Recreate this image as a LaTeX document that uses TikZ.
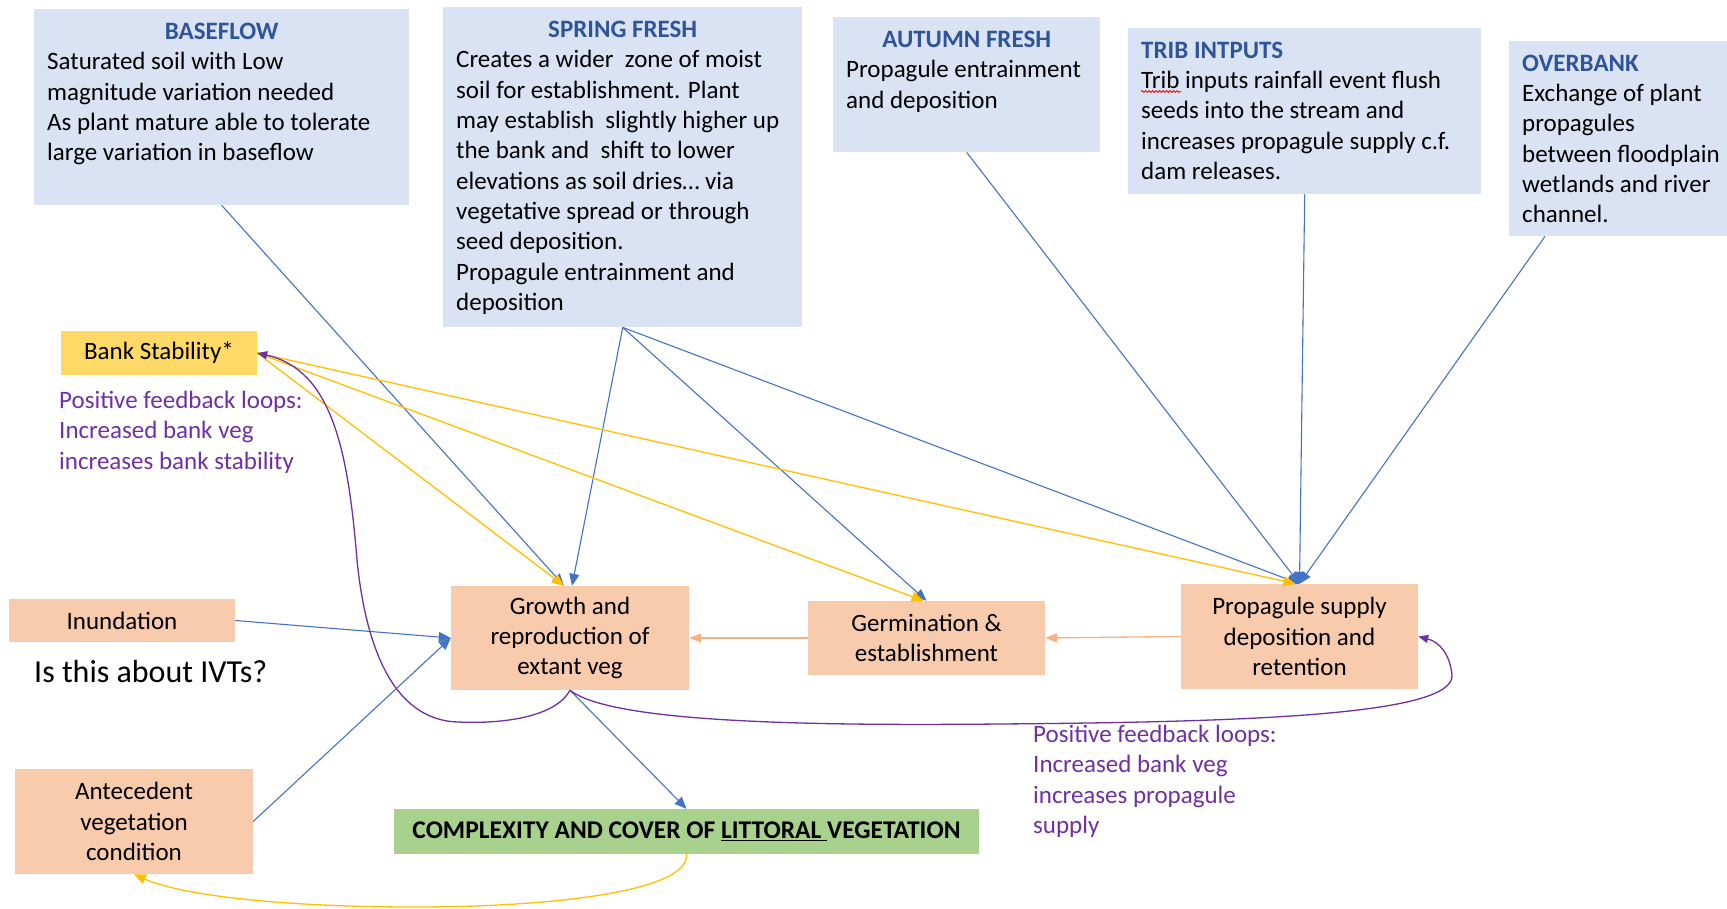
\documentclass[tikz,border=0pt]{standalone}
\usepackage{fontspec}
\setmainfont{Carlito}
\usetikzlibrary{positioning, arrows.meta, decorations.pathmorphing}
\definecolor{flowBlue}{HTML}{DAE3F3}
\definecolor{flowHeadBlue}{HTML}{2F5597}
\definecolor{linkBlue}{HTML}{4472C4}
\definecolor{bankGold}{HTML}{FFD966}
\definecolor{linkGold}{HTML}{FFC000}
\definecolor{procPeach}{HTML}{F8CBAD}
\definecolor{linkPeach}{HTML}{F4B183}
\definecolor{vegGreen}{HTML}{A9D18E}
\definecolor{loopPurple}{HTML}{7030A0}

\begin{document}
\begin{tikzpicture}[x=1pt, y=-1pt,
    flowBox/.style={rectangle, fill=flowBlue, anchor=north west, inner sep=0pt},
    flowHead/.style={font=\fontsize{25}{30.3}\selectfont\bfseries, text=flowHeadBlue, inner sep=0pt, anchor=north},
    flowText/.style={font=\fontsize{25}{30.3}\selectfont, align=left, inner sep=0pt, anchor=north west},
    procBox/.style={rectangle, fill=procPeach, align=center, font=\fontsize{25}{30.3}\selectfont, inner sep=0pt},
    bankBox/.style={procBox, fill=bankGold},
    outcomeBox/.style={procBox, fill=vegGreen, font=\fontsize{25.5}{30}\selectfont\bfseries},
    loopNote/.style={flowText, text=loopPurple},
    blueLink/.style={draw=linkBlue, line width=1.1pt, -{Triangle[length=12pt, width=10pt]}},
    goldLink/.style={draw=linkGold, line width=1.3pt, -{Triangle[length=12pt, width=10pt]}},
    peachLink/.style={draw=linkPeach, line width=1.3pt, -{Triangle[length=12pt, width=9pt]}},
    loopLink/.style={draw=loopPurple, line width=1.3pt, -{Triangle[length=10pt, width=8pt]}},
]
\useasboundingbox (0,0) rectangle (1727,909);

% flow components
\node[flowBox, minimum width=375pt, minimum height=196pt] (baseflow) at (34,9) {};
\node[flowHead] (baseflowHd) at ([yshift=-8.8pt]baseflow.north) {\strut BASEFLOW};
\node[flowText] (baseflowTxt) at ([xshift=13pt]baseflowHd.south -| baseflow.west) {\strut Saturated soil with Low\\
    magnitude variation needed\\
    As plant mature able to tolerate\\
    large variation in baseflow};

\node[flowBox, minimum width=359pt, minimum height=320pt] (spring) at (443,7) {};
\node[flowHead] (springHd) at ([yshift=-8.8pt]spring.north) {\strut SPRING FRESH};
\node[flowText] (springTxt) at ([xshift=13pt]springHd.south -| spring.west) {\strut Creates a wider~ zone of moist\\
    soil for establishment. Plant\\
    may establish~ slightly higher up\\
    the bank and~ shift to lower\\
    elevations as soil dries\ldots{} via\\
    vegetative spread or through\\
    seed deposition.\\
    Propagule entrainment and\\
    deposition};

\node[flowBox, minimum width=267pt, minimum height=135pt] (autumn) at (833,17) {};
\node[flowHead] (autumnHd) at ([yshift=-8.8pt]autumn.north) {\strut AUTUMN FRESH};
\node[flowText] (autumnTxt) at ([xshift=13pt]autumnHd.south -| autumn.west) {\strut Propagule entrainment\\
    and deposition};

\node[flowBox, minimum width=353pt, minimum height=166pt] (trib) at (1128,28) {};
\node[flowText] (tribTxt) at ([shift={(13pt,-8.8pt)}]trib.north west) {\strut\textbf{\textcolor{flowHeadBlue}{TRIB INTPUTS}}\\
    Trib inputs rainfall event flush\\
    seeds into the stream and\\
    increases propagule supply c.f.\\
    dam releases.};
\draw[red, line width=0.8pt, decorate, decoration={snake, amplitude=1pt, segment length=3.5pt}]
    ([shift={(13pt,-63.5pt)}]trib.north west) -- ++(40,0);

\node[flowBox, minimum width=218pt, minimum height=195pt] (overbank) at (1509,41) {};
\node[flowText] (overbankTxt) at ([shift={(13pt,-8.8pt)}]overbank.north west) {\strut\textbf{\textcolor{flowHeadBlue}{OVERBANK}}\\
    Exchange of plant\\
    propagules\\
    between floodplain\\
    wetlands and river\\
    channel.};

% processes
\node[bankBox, minimum width=196pt, minimum height=43pt] (bank) at (159,353) {Bank Stability*};
\node[loopNote] (bankNote) at (59,387) {\strut Positive feedback loops:\\
    Increased bank veg\\
    increases bank stability};
\node[procBox, minimum width=226pt, minimum height=43pt] (inundation) at (122,620.5) {Inundation};
\node[font=\fontsize{32}{38}\selectfont, anchor=base west, inner sep=0pt] (ivtQuery) at (34,682) {Is this about IVTs?};
\node[procBox, minimum width=238pt, minimum height=104pt] (growth) at (570,638) {Growth and\\ reproduction of\\ extant veg};
\node[procBox, minimum width=237pt, minimum height=74pt] (germination) at (926.5,638) {Germination \&\\ establishment};
\node[procBox, minimum width=237pt, minimum height=105pt] (propagule) at (1299.5,636.5) {Propagule supply\\ deposition and\\ retention};
\node[procBox, minimum width=238pt, minimum height=105pt] (antecedent) at (134,821.5) {Antecedent\\ vegetation\\ condition};
\node[outcomeBox, minimum width=585pt, minimum height=45pt] (outcome) at (686.5,831.5) {COMPLEXITY AND COVER OF \underline{LITTORAL\ }VEGETATION};
\node[loopNote] (propNote) at (1033,721) {\strut Positive feedback loops:\\
    Increased bank veg\\
    increases propagule\\
    supply};

% flow links
\draw[blueLink] (baseflow.south) -- ([xshift=-6pt]growth.north);
\draw[blueLink] (spring.south) -- ([xshift=2pt]growth.north);
\draw[blueLink] (spring.south) -- (germination.north);
\draw[blueLink] (spring.south) -- (propagule.north);
\draw[blueLink] (autumn.south) -- (propagule.north);
\draw[blueLink] (trib.south) -- (propagule.north);
\draw[blueLink] ([xshift=36pt]overbank.south west) -- (propagule.north);
\draw[blueLink] (inundation.east) -- (growth.west);
\draw[blueLink] (antecedent.east) -- (growth.west);
\draw[blueLink] (growth.south) -- (outcome.north);

% bank stability links
\draw[goldLink] (bank.east) -- ([xshift=-6pt]growth.north);
\draw[goldLink] (bank.east) -- ([xshift=-3pt]germination.north);
\draw[goldLink] (bank.east) -- ([xshift=-4pt]propagule.north);

% process chain
\draw[peachLink] (germination.west) -- (growth.east);
\draw[peachLink] (propagule.west) -- (germination.east);

% feedback loops
\draw[loopLink] (growth.south) .. controls (555,718) and (500,724) .. (458,722)
    .. controls (390,720) and (365,640) .. (357,560)
    .. controls (348,450) and (332,370) .. (bank.east);
\draw[loopLink] (growth.south) .. controls (610,722) and (800,726) .. (1000,724)
    .. controls (1250,722) and (1455,715) .. (1452,675)
    .. controls (1450,655) and (1440,642) .. (propagule.east);
\draw[goldLink] (outcome.south) .. controls (690,890) and (560,907) .. (415,907)
    .. controls (280,907) and (180,895) .. (antecedent.south);
\end{tikzpicture}
\end{document}
